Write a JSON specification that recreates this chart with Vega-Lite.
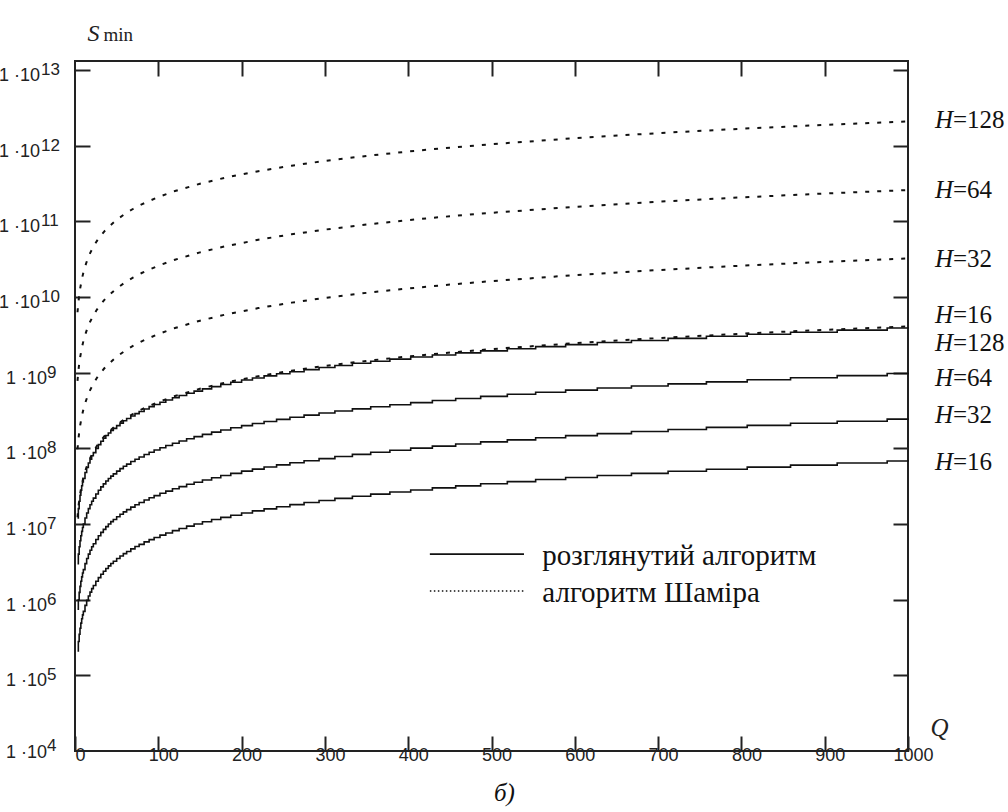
{
"$schema": "https://vega.github.io/schema/vega-lite/v6.json",
"width": 833,
"height": 690,
"autosize": {"type": "none"},
"padding": {"left": 75, "top": 61, "right": 100, "bottom": 61},
"background": "white",
"config": {"view": {"stroke": "#222", "strokeWidth": 2}},
"title": {"text": "б)", "orient": "bottom", "anchor": "middle", "font": "Liberation Serif", "fontStyle": "italic", "fontWeight": "normal", "fontSize": 25, "color": "#111", "offset": 17, "dx": 13},
"datasets": {
"new": [
{"H":16,"Q":3,"S":2.1e5},{"H":16,"Q":4,"S":2.8e5},{"H":16,"Q":5,"S":3.5e5},{"H":16,"Q":6,"S":4.2e5},{"H":16,"Q":7,"S":4.9e5},{"H":16,"Q":8,"S":5.6e5},{"H":16,"Q":9,"S":6.3e5},{"H":16,"Q":10,"S":7.0e5},{"H":16,"Q":12,"S":8.4e5},{"H":16,"Q":14,"S":9.8e5},{"H":16,"Q":16,"S":1.12e6},{"H":16,"Q":18,"S":1.26e6},{"H":16,"Q":20,"S":1.4e6},{"H":16,"Q":22,"S":1.54e6},{"H":16,"Q":25,"S":1.75e6},{"H":16,"Q":28,"S":1.96e6},{"H":16,"Q":31,"S":2.17e6},{"H":16,"Q":34,"S":2.38e6},{"H":16,"Q":37,"S":2.59e6},{"H":16,"Q":40,"S":2.8e6},{"H":16,"Q":43,"S":3.01e6},{"H":16,"Q":46,"S":3.22e6},{"H":16,"Q":50,"S":3.5e6},{"H":16,"Q":54,"S":3.78e6},{"H":16,"Q":58,"S":4.06e6},{"H":16,"Q":62,"S":4.34e6},{"H":16,"Q":67,"S":4.69e6},{"H":16,"Q":72,"S":5.04e6},{"H":16,"Q":77,"S":5.39e6},{"H":16,"Q":83,"S":5.81e6},{"H":16,"Q":89,"S":6.23e6},{"H":16,"Q":95,"S":6.65e6},{"H":16,"Q":102,"S":7.14e6},{"H":16,"Q":109,"S":7.63e6},{"H":16,"Q":117,"S":8.19e6},{"H":16,"Q":125,"S":8.75e6},{"H":16,"Q":134,"S":9.38e6},{"H":16,"Q":143,"S":1.001e7},{"H":16,"Q":153,"S":1.071e7},{"H":16,"Q":164,"S":1.148e7},{"H":16,"Q":175,"S":1.225e7},{"H":16,"Q":187,"S":1.309e7},{"H":16,"Q":200,"S":1.4e7},{"H":16,"Q":213,"S":1.491e7},{"H":16,"Q":227,"S":1.589e7},{"H":16,"Q":242,"S":1.694e7},{"H":16,"Q":258,"S":1.806e7},{"H":16,"Q":275,"S":1.925e7},{"H":16,"Q":293,"S":2.051e7},{"H":16,"Q":312,"S":2.184e7},{"H":16,"Q":333,"S":2.331e7},{"H":16,"Q":355,"S":2.485e7},{"H":16,"Q":378,"S":2.646e7},{"H":16,"Q":403,"S":2.821e7},{"H":16,"Q":429,"S":3.003e7},{"H":16,"Q":457,"S":3.199e7},{"H":16,"Q":487,"S":3.409e7},{"H":16,"Q":519,"S":3.633e7},{"H":16,"Q":553,"S":3.871e7},{"H":16,"Q":589,"S":4.123e7},{"H":16,"Q":627,"S":4.389e7},{"H":16,"Q":668,"S":4.676e7},{"H":16,"Q":712,"S":4.984e7},{"H":16,"Q":758,"S":5.306e7},{"H":16,"Q":807,"S":5.649e7},{"H":16,"Q":859,"S":6.013e7},{"H":16,"Q":915,"S":6.405e7},{"H":16,"Q":975,"S":6.825e7},{"H":16,"Q":1000,"S":7.0e7},
{"H":32,"Q":3,"S":7.5e5},{"H":32,"Q":4,"S":1.0e6},{"H":32,"Q":5,"S":1.25e6},{"H":32,"Q":6,"S":1.5e6},{"H":32,"Q":7,"S":1.75e6},{"H":32,"Q":8,"S":2.0e6},{"H":32,"Q":9,"S":2.25e6},{"H":32,"Q":10,"S":2.5e6},{"H":32,"Q":12,"S":3.0e6},{"H":32,"Q":14,"S":3.5e6},{"H":32,"Q":16,"S":4.0e6},{"H":32,"Q":18,"S":4.5e6},{"H":32,"Q":20,"S":5.0e6},{"H":32,"Q":22,"S":5.5e6},{"H":32,"Q":25,"S":6.25e6},{"H":32,"Q":28,"S":7.0e6},{"H":32,"Q":31,"S":7.75e6},{"H":32,"Q":34,"S":8.5e6},{"H":32,"Q":37,"S":9.25e6},{"H":32,"Q":40,"S":1.0e7},{"H":32,"Q":43,"S":1.075e7},{"H":32,"Q":46,"S":1.15e7},{"H":32,"Q":50,"S":1.25e7},{"H":32,"Q":54,"S":1.35e7},{"H":32,"Q":58,"S":1.45e7},{"H":32,"Q":62,"S":1.55e7},{"H":32,"Q":67,"S":1.675e7},{"H":32,"Q":72,"S":1.8e7},{"H":32,"Q":77,"S":1.925e7},{"H":32,"Q":83,"S":2.075e7},{"H":32,"Q":89,"S":2.225e7},{"H":32,"Q":95,"S":2.375e7},{"H":32,"Q":102,"S":2.55e7},{"H":32,"Q":109,"S":2.725e7},{"H":32,"Q":117,"S":2.925e7},{"H":32,"Q":125,"S":3.125e7},{"H":32,"Q":134,"S":3.35e7},{"H":32,"Q":143,"S":3.575e7},{"H":32,"Q":153,"S":3.825e7},{"H":32,"Q":164,"S":4.1e7},{"H":32,"Q":175,"S":4.375e7},{"H":32,"Q":187,"S":4.675e7},{"H":32,"Q":200,"S":5.0e7},{"H":32,"Q":213,"S":5.325e7},{"H":32,"Q":227,"S":5.675e7},{"H":32,"Q":242,"S":6.05e7},{"H":32,"Q":258,"S":6.45e7},{"H":32,"Q":275,"S":6.875e7},{"H":32,"Q":293,"S":7.325e7},{"H":32,"Q":312,"S":7.8e7},{"H":32,"Q":333,"S":8.325e7},{"H":32,"Q":355,"S":8.875e7},{"H":32,"Q":378,"S":9.45e7},{"H":32,"Q":403,"S":1.0075e8},{"H":32,"Q":429,"S":1.0725e8},{"H":32,"Q":457,"S":1.1425e8},{"H":32,"Q":487,"S":1.2175e8},{"H":32,"Q":519,"S":1.2975e8},{"H":32,"Q":553,"S":1.3825e8},{"H":32,"Q":589,"S":1.4725e8},{"H":32,"Q":627,"S":1.5675e8},{"H":32,"Q":668,"S":1.67e8},{"H":32,"Q":712,"S":1.78e8},{"H":32,"Q":758,"S":1.895e8},{"H":32,"Q":807,"S":2.0175e8},{"H":32,"Q":859,"S":2.1475e8},{"H":32,"Q":915,"S":2.2875e8},{"H":32,"Q":975,"S":2.4375e8},{"H":32,"Q":1000,"S":2.5e8},
{"H":64,"Q":3,"S":3.0e6},{"H":64,"Q":4,"S":4.0e6},{"H":64,"Q":5,"S":5.0e6},{"H":64,"Q":6,"S":6.0e6},{"H":64,"Q":7,"S":7.0e6},{"H":64,"Q":8,"S":8.0e6},{"H":64,"Q":9,"S":9.0e6},{"H":64,"Q":10,"S":1.0e7},{"H":64,"Q":12,"S":1.2e7},{"H":64,"Q":14,"S":1.4e7},{"H":64,"Q":16,"S":1.6e7},{"H":64,"Q":18,"S":1.8e7},{"H":64,"Q":20,"S":2.0e7},{"H":64,"Q":22,"S":2.2e7},{"H":64,"Q":25,"S":2.5e7},{"H":64,"Q":28,"S":2.8e7},{"H":64,"Q":31,"S":3.1e7},{"H":64,"Q":34,"S":3.4e7},{"H":64,"Q":37,"S":3.7e7},{"H":64,"Q":40,"S":4.0e7},{"H":64,"Q":43,"S":4.3e7},{"H":64,"Q":46,"S":4.6e7},{"H":64,"Q":50,"S":5.0e7},{"H":64,"Q":54,"S":5.4e7},{"H":64,"Q":58,"S":5.8e7},{"H":64,"Q":62,"S":6.2e7},{"H":64,"Q":67,"S":6.7e7},{"H":64,"Q":72,"S":7.2e7},{"H":64,"Q":77,"S":7.7e7},{"H":64,"Q":83,"S":8.3e7},{"H":64,"Q":89,"S":8.9e7},{"H":64,"Q":95,"S":9.5e7},{"H":64,"Q":102,"S":1.02e8},{"H":64,"Q":109,"S":1.09e8},{"H":64,"Q":117,"S":1.17e8},{"H":64,"Q":125,"S":1.25e8},{"H":64,"Q":134,"S":1.34e8},{"H":64,"Q":143,"S":1.43e8},{"H":64,"Q":153,"S":1.53e8},{"H":64,"Q":164,"S":1.64e8},{"H":64,"Q":175,"S":1.75e8},{"H":64,"Q":187,"S":1.87e8},{"H":64,"Q":200,"S":2.0e8},{"H":64,"Q":213,"S":2.13e8},{"H":64,"Q":227,"S":2.27e8},{"H":64,"Q":242,"S":2.42e8},{"H":64,"Q":258,"S":2.58e8},{"H":64,"Q":275,"S":2.75e8},{"H":64,"Q":293,"S":2.93e8},{"H":64,"Q":312,"S":3.12e8},{"H":64,"Q":333,"S":3.33e8},{"H":64,"Q":355,"S":3.55e8},{"H":64,"Q":378,"S":3.78e8},{"H":64,"Q":403,"S":4.03e8},{"H":64,"Q":429,"S":4.29e8},{"H":64,"Q":457,"S":4.57e8},{"H":64,"Q":487,"S":4.87e8},{"H":64,"Q":519,"S":5.19e8},{"H":64,"Q":553,"S":5.53e8},{"H":64,"Q":589,"S":5.89e8},{"H":64,"Q":627,"S":6.27e8},{"H":64,"Q":668,"S":6.68e8},{"H":64,"Q":712,"S":7.12e8},{"H":64,"Q":758,"S":7.58e8},{"H":64,"Q":807,"S":8.07e8},{"H":64,"Q":859,"S":8.59e8},{"H":64,"Q":915,"S":9.15e8},{"H":64,"Q":975,"S":9.75e8},{"H":64,"Q":1000,"S":1.0e9},
{"H":128,"Q":3,"S":1.2e7},{"H":128,"Q":4,"S":1.6e7},{"H":128,"Q":5,"S":2.0e7},{"H":128,"Q":6,"S":2.4e7},{"H":128,"Q":7,"S":2.8e7},{"H":128,"Q":8,"S":3.2e7},{"H":128,"Q":9,"S":3.6e7},{"H":128,"Q":10,"S":4.0e7},{"H":128,"Q":12,"S":4.8e7},{"H":128,"Q":14,"S":5.6e7},{"H":128,"Q":16,"S":6.4e7},{"H":128,"Q":18,"S":7.2e7},{"H":128,"Q":20,"S":8.0e7},{"H":128,"Q":22,"S":8.8e7},{"H":128,"Q":25,"S":1.0e8},{"H":128,"Q":28,"S":1.12e8},{"H":128,"Q":31,"S":1.24e8},{"H":128,"Q":34,"S":1.36e8},{"H":128,"Q":37,"S":1.48e8},{"H":128,"Q":40,"S":1.6e8},{"H":128,"Q":43,"S":1.72e8},{"H":128,"Q":46,"S":1.84e8},{"H":128,"Q":50,"S":2.0e8},{"H":128,"Q":54,"S":2.16e8},{"H":128,"Q":58,"S":2.32e8},{"H":128,"Q":62,"S":2.48e8},{"H":128,"Q":67,"S":2.68e8},{"H":128,"Q":72,"S":2.88e8},{"H":128,"Q":77,"S":3.08e8},{"H":128,"Q":83,"S":3.32e8},{"H":128,"Q":89,"S":3.56e8},{"H":128,"Q":95,"S":3.8e8},{"H":128,"Q":102,"S":4.08e8},{"H":128,"Q":109,"S":4.36e8},{"H":128,"Q":117,"S":4.68e8},{"H":128,"Q":125,"S":5.0e8},{"H":128,"Q":134,"S":5.36e8},{"H":128,"Q":143,"S":5.72e8},{"H":128,"Q":153,"S":6.12e8},{"H":128,"Q":164,"S":6.56e8},{"H":128,"Q":175,"S":7.0e8},{"H":128,"Q":187,"S":7.48e8},{"H":128,"Q":200,"S":8.0e8},{"H":128,"Q":213,"S":8.52e8},{"H":128,"Q":227,"S":9.08e8},{"H":128,"Q":242,"S":9.68e8},{"H":128,"Q":258,"S":1.032e9},{"H":128,"Q":275,"S":1.1e9},{"H":128,"Q":293,"S":1.172e9},{"H":128,"Q":312,"S":1.248e9},{"H":128,"Q":333,"S":1.332e9},{"H":128,"Q":355,"S":1.42e9},{"H":128,"Q":378,"S":1.512e9},{"H":128,"Q":403,"S":1.612e9},{"H":128,"Q":429,"S":1.716e9},{"H":128,"Q":457,"S":1.828e9},{"H":128,"Q":487,"S":1.948e9},{"H":128,"Q":519,"S":2.076e9},{"H":128,"Q":553,"S":2.212e9},{"H":128,"Q":589,"S":2.356e9},{"H":128,"Q":627,"S":2.508e9},{"H":128,"Q":668,"S":2.672e9},{"H":128,"Q":712,"S":2.848e9},{"H":128,"Q":758,"S":3.032e9},{"H":128,"Q":807,"S":3.228e9},{"H":128,"Q":859,"S":3.436e9},{"H":128,"Q":915,"S":3.66e9},{"H":128,"Q":975,"S":3.9e9},{"H":128,"Q":1000,"S":4.0e9}
],
"shamir": [
{"H":16,"Q":3,"S":1.23e7},{"H":16,"Q":4,"S":1.64e7},{"H":16,"Q":5,"S":2.05e7},{"H":16,"Q":6,"S":2.46e7},{"H":16,"Q":8,"S":3.28e7},{"H":16,"Q":10,"S":4.1e7},{"H":16,"Q":12,"S":4.92e7},{"H":16,"Q":15,"S":6.15e7},{"H":16,"Q":18,"S":7.38e7},{"H":16,"Q":22,"S":9.02e7},{"H":16,"Q":26,"S":1.066e8},{"H":16,"Q":30,"S":1.23e8},{"H":16,"Q":35,"S":1.435e8},{"H":16,"Q":40,"S":1.64e8},{"H":16,"Q":50,"S":2.05e8},{"H":16,"Q":60,"S":2.46e8},{"H":16,"Q":70,"S":2.87e8},{"H":16,"Q":80,"S":3.28e8},{"H":16,"Q":100,"S":4.1e8},{"H":16,"Q":120,"S":4.92e8},{"H":16,"Q":150,"S":6.15e8},{"H":16,"Q":180,"S":7.38e8},{"H":16,"Q":220,"S":9.02e8},{"H":16,"Q":260,"S":1.066e9},{"H":16,"Q":300,"S":1.23e9},{"H":16,"Q":350,"S":1.435e9},{"H":16,"Q":400,"S":1.64e9},{"H":16,"Q":450,"S":1.845e9},{"H":16,"Q":500,"S":2.05e9},{"H":16,"Q":600,"S":2.46e9},{"H":16,"Q":700,"S":2.87e9},{"H":16,"Q":800,"S":3.28e9},{"H":16,"Q":900,"S":3.69e9},{"H":16,"Q":1000,"S":4.1e9},
{"H":32,"Q":3,"S":9.75e7},{"H":32,"Q":4,"S":1.3e8},{"H":32,"Q":5,"S":1.625e8},{"H":32,"Q":6,"S":1.95e8},{"H":32,"Q":8,"S":2.6e8},{"H":32,"Q":10,"S":3.25e8},{"H":32,"Q":12,"S":3.9e8},{"H":32,"Q":15,"S":4.875e8},{"H":32,"Q":18,"S":5.85e8},{"H":32,"Q":22,"S":7.15e8},{"H":32,"Q":26,"S":8.45e8},{"H":32,"Q":30,"S":9.75e8},{"H":32,"Q":35,"S":1.1375e9},{"H":32,"Q":40,"S":1.3e9},{"H":32,"Q":50,"S":1.625e9},{"H":32,"Q":60,"S":1.95e9},{"H":32,"Q":70,"S":2.275e9},{"H":32,"Q":80,"S":2.6e9},{"H":32,"Q":100,"S":3.25e9},{"H":32,"Q":120,"S":3.9e9},{"H":32,"Q":150,"S":4.875e9},{"H":32,"Q":180,"S":5.85e9},{"H":32,"Q":220,"S":7.15e9},{"H":32,"Q":260,"S":8.45e9},{"H":32,"Q":300,"S":9.75e9},{"H":32,"Q":350,"S":1.1375e10},{"H":32,"Q":400,"S":1.3e10},{"H":32,"Q":450,"S":1.4625e10},{"H":32,"Q":500,"S":1.625e10},{"H":32,"Q":600,"S":1.95e10},{"H":32,"Q":700,"S":2.275e10},{"H":32,"Q":800,"S":2.6e10},{"H":32,"Q":900,"S":2.925e10},{"H":32,"Q":1000,"S":3.25e10},
{"H":64,"Q":3,"S":7.8e8},{"H":64,"Q":4,"S":1.04e9},{"H":64,"Q":5,"S":1.3e9},{"H":64,"Q":6,"S":1.56e9},{"H":64,"Q":8,"S":2.08e9},{"H":64,"Q":10,"S":2.6e9},{"H":64,"Q":12,"S":3.12e9},{"H":64,"Q":15,"S":3.9e9},{"H":64,"Q":18,"S":4.68e9},{"H":64,"Q":22,"S":5.72e9},{"H":64,"Q":26,"S":6.76e9},{"H":64,"Q":30,"S":7.8e9},{"H":64,"Q":35,"S":9.1e9},{"H":64,"Q":40,"S":1.04e10},{"H":64,"Q":50,"S":1.3e10},{"H":64,"Q":60,"S":1.56e10},{"H":64,"Q":70,"S":1.82e10},{"H":64,"Q":80,"S":2.08e10},{"H":64,"Q":100,"S":2.6e10},{"H":64,"Q":120,"S":3.12e10},{"H":64,"Q":150,"S":3.9e10},{"H":64,"Q":180,"S":4.68e10},{"H":64,"Q":220,"S":5.72e10},{"H":64,"Q":260,"S":6.76e10},{"H":64,"Q":300,"S":7.8e10},{"H":64,"Q":350,"S":9.1e10},{"H":64,"Q":400,"S":1.04e11},{"H":64,"Q":450,"S":1.17e11},{"H":64,"Q":500,"S":1.3e11},{"H":64,"Q":600,"S":1.56e11},{"H":64,"Q":700,"S":1.82e11},{"H":64,"Q":800,"S":2.08e11},{"H":64,"Q":900,"S":2.34e11},{"H":64,"Q":1000,"S":2.6e11},
{"H":128,"Q":3,"S":6.3e9},{"H":128,"Q":4,"S":8.4e9},{"H":128,"Q":5,"S":1.05e10},{"H":128,"Q":6,"S":1.26e10},{"H":128,"Q":8,"S":1.68e10},{"H":128,"Q":10,"S":2.1e10},{"H":128,"Q":12,"S":2.52e10},{"H":128,"Q":15,"S":3.15e10},{"H":128,"Q":18,"S":3.78e10},{"H":128,"Q":22,"S":4.62e10},{"H":128,"Q":26,"S":5.46e10},{"H":128,"Q":30,"S":6.3e10},{"H":128,"Q":35,"S":7.35e10},{"H":128,"Q":40,"S":8.4e10},{"H":128,"Q":50,"S":1.05e11},{"H":128,"Q":60,"S":1.26e11},{"H":128,"Q":70,"S":1.47e11},{"H":128,"Q":80,"S":1.68e11},{"H":128,"Q":100,"S":2.1e11},{"H":128,"Q":120,"S":2.52e11},{"H":128,"Q":150,"S":3.15e11},{"H":128,"Q":180,"S":3.78e11},{"H":128,"Q":220,"S":4.62e11},{"H":128,"Q":260,"S":5.46e11},{"H":128,"Q":300,"S":6.3e11},{"H":128,"Q":350,"S":7.35e11},{"H":128,"Q":400,"S":8.4e11},{"H":128,"Q":450,"S":9.45e11},{"H":128,"Q":500,"S":1.05e12},{"H":128,"Q":600,"S":1.26e12},{"H":128,"Q":700,"S":1.47e12},{"H":128,"Q":800,"S":1.68e12},{"H":128,"Q":900,"S":1.89e12},{"H":128,"Q":1000,"S":2.1e12}
],
"decades": [
{"Q":0,"S":1e4,"ex":"4"},{"Q":0,"S":1e5,"ex":"5"},{"Q":0,"S":1e6,"ex":"6"},{"Q":0,"S":1e7,"ex":"7"},{"Q":0,"S":1e8,"ex":"8"},{"Q":0,"S":1e9,"ex":"9"},{"Q":0,"S":1e10,"ex":"10"},{"Q":0,"S":1e11,"ex":"11"},{"Q":0,"S":1e12,"ex":"12"},{"Q":0,"S":1e13,"ex":"13"}
],
"labels": [
{"Q":1000,"S":2.18e12,"txt":"=128"},{"Q":1000,"S":2.6e11,"txt":"=64"},{"Q":1000,"S":3.18e10,"txt":"=32"},{"Q":1000,"S":5.78e9,"txt":"=16"},{"Q":1000,"S":2.47e9,"txt":"=128"},{"Q":1000,"S":8.5e8,"txt":"=64"},{"Q":1000,"S":2.75e8,"txt":"=32"},{"Q":1000,"S":6.6e7,"txt":"=16"}
],
"legend": [
{"alg":"new","name":"розглянутий алгоритм","Q1":426,"Q2":539,"Qt":561,"S":4.0e6},
{"alg":"shamir","name":"алгоритм Шаміра","Q1":426,"Q2":539,"Qt":561,"S":1.3e6}
]
},
"resolve": {"axis": {"x": "independent", "y": "independent"}},
"layer": [
{
"data": {"name": "new"},
"mark": {"type": "line", "interpolate": "step-after", "color": "#111", "strokeWidth": 1.6},
"encoding": {
"x": {"field": "Q", "type": "quantitative", "scale": {"domain": [0, 1000], "nice": false, "zero": false},
"axis": {"orient": "bottom", "values": [0,100,200,300,400,500,600,700,800,900,1000], "format": "d", "domain": false, "grid": false, "tickSize": -15, "tickWidth": 2, "tickColor": "#222", "labelFont": "Liberation Sans", "labelFontSize": 18, "labelColor": "#222", "labelPadding": 10, "labelOffset": 5, "labelFlush": false, "labelOverlap": false,
"title": "Q", "titleFont": "Liberation Serif", "titleFontStyle": "italic", "titleFontWeight": "normal", "titleFontSize": 25, "titleColor": "#222", "titleX": 855, "titleY": -16, "titleAlign": "left", "titleBaseline": "alphabetic", "titleAnchor": "start"}},
"y": {"field": "S", "type": "quantitative", "scale": {"type": "log", "domain": [1e4, 1.32e13], "nice": false},
"axis": {"orient": "left", "values": [1e5,1e6,1e7,1e8,1e9,1e10,1e11,1e12,1e13], "domain": false, "grid": false, "labels": false, "tickSize": -15, "tickWidth": 2, "tickColor": "#222",
"title": "S", "titleFont": "Liberation Serif", "titleFontStyle": "italic", "titleFontWeight": "normal", "titleFontSize": 24, "titleColor": "#222", "titleAngle": 0, "titleX": 12, "titleY": -21, "titleAlign": "left", "titleBaseline": "alphabetic"}},
"detail": {"field": "H", "type": "nominal"}
}
},
{
"data": {"name": "shamir"},
"mark": {"type": "line", "color": "#111", "strokeWidth": 2, "strokeDash": [4, 8]},
"encoding": {
"x": {"field": "Q", "type": "quantitative",
"axis": {"orient": "top", "values": [100,200,300,400,500,600,700,800,900], "domain": false, "grid": false, "labels": false, "tickSize": -15, "tickWidth": 2, "tickColor": "#222",
"title": "min", "titleFont": "Liberation Serif", "titleFontStyle": "normal", "titleFontWeight": "normal", "titleFontSize": 19, "titleColor": "#222", "titleX": 28, "titleY": -21, "titleAlign": "left", "titleBaseline": "alphabetic"}},
"y": {"field": "S", "type": "quantitative",
"axis": {"orient": "right", "values": [1e5,1e6,1e7,1e8,1e9,1e10,1e11,1e12,1e13], "domain": false, "grid": false, "labels": false, "tickSize": -15, "tickWidth": 2, "tickColor": "#222", "title": null}},
"detail": {"field": "H", "type": "nominal"}
}
},
{
"data": {"name": "decades"},
"transform": [{"filter": "datum.S > 1e4 && datum.S < 1e10"}],
"mark": {"type": "text", "text": "1 ·10", "align": "right", "baseline": "alphabetic", "dx": -28, "dy": 11, "font": "Liberation Sans", "fontSize": 18, "color": "#222"},
"encoding": {
"x": {"field": "Q", "type": "quantitative", "axis": null},
"y": {"field": "S", "type": "quantitative", "axis": null}
}
},
{
"data": {"name": "decades"},
"transform": [{"filter": "datum.S > 1e4 && datum.S < 1e10"}],
"mark": {"type": "text", "align": "left", "baseline": "alphabetic", "dx": -28, "dy": 5, "font": "Liberation Sans", "fontSize": 17, "color": "#222"},
"encoding": {
"x": {"field": "Q", "type": "quantitative", "axis": null},
"y": {"field": "S", "type": "quantitative", "axis": null},
"text": {"field": "ex"}
}
},
{
"data": {"name": "decades"},
"transform": [{"filter": "datum.S <= 1e4"}],
"mark": {"type": "text", "text": "1 ·10", "align": "right", "baseline": "alphabetic", "dx": -28, "dy": 7, "font": "Liberation Sans", "fontSize": 18, "color": "#222"},
"encoding": {
"x": {"field": "Q", "type": "quantitative", "axis": null},
"y": {"field": "S", "type": "quantitative", "axis": null}
}
},
{
"data": {"name": "decades"},
"transform": [{"filter": "datum.S <= 1e4"}],
"mark": {"type": "text", "align": "left", "baseline": "alphabetic", "dx": -28, "dy": 0, "font": "Liberation Sans", "fontSize": 17, "color": "#222"},
"encoding": {
"x": {"field": "Q", "type": "quantitative", "axis": null},
"y": {"field": "S", "type": "quantitative", "axis": null},
"text": {"field": "ex"}
}
},
{
"data": {"name": "decades"},
"transform": [{"filter": "datum.S >= 1e10"}],
"mark": {"type": "text", "text": "1 ·10", "align": "right", "baseline": "alphabetic", "dx": -35, "dy": 11, "font": "Liberation Sans", "fontSize": 18, "color": "#222"},
"encoding": {
"x": {"field": "Q", "type": "quantitative", "axis": null},
"y": {"field": "S", "type": "quantitative", "axis": null}
}
},
{
"data": {"name": "decades"},
"transform": [{"filter": "datum.S >= 1e10"}],
"mark": {"type": "text", "align": "left", "baseline": "alphabetic", "dx": -34, "dy": 5, "font": "Liberation Sans", "fontSize": 17, "color": "#222"},
"encoding": {
"x": {"field": "Q", "type": "quantitative", "axis": null},
"y": {"field": "S", "type": "quantitative", "axis": null},
"text": {"field": "ex"}
}
},
{
"data": {"name": "labels"},
"mark": {"type": "text", "text": "H", "align": "left", "baseline": "middle", "dx": 27, "font": "Liberation Serif", "fontStyle": "italic", "fontSize": 25, "color": "#111"},
"encoding": {
"x": {"field": "Q", "type": "quantitative", "axis": null},
"y": {"field": "S", "type": "quantitative", "axis": null}
}
},
{
"data": {"name": "labels"},
"mark": {"type": "text", "align": "left", "baseline": "middle", "dx": 45, "font": "Liberation Serif", "fontSize": 25, "color": "#111"},
"encoding": {
"x": {"field": "Q", "type": "quantitative", "axis": null},
"y": {"field": "S", "type": "quantitative", "axis": null},
"text": {"field": "txt"}
}
},
{
"data": {"name": "legend"},
"transform": [{"filter": "datum.alg == 'new'"}],
"mark": {"type": "rule", "color": "#111", "strokeWidth": 1.8},
"encoding": {
"x": {"field": "Q1", "type": "quantitative", "axis": null},
"x2": {"field": "Q2"},
"y": {"field": "S", "type": "quantitative", "axis": null}
}
},
{
"data": {"name": "legend"},
"transform": [{"filter": "datum.alg == 'shamir'"}],
"mark": {"type": "rule", "color": "#111", "strokeWidth": 1.5, "strokeDash": [1.5, 2.5]},
"encoding": {
"x": {"field": "Q1", "type": "quantitative", "axis": null},
"x2": {"field": "Q2"},
"y": {"field": "S", "type": "quantitative", "axis": null}
}
},
{
"data": {"name": "legend"},
"mark": {"type": "text", "align": "left", "baseline": "middle", "dy": 2, "font": "Liberation Serif, serif", "fontSize": 29, "color": "#111"},
"encoding": {
"x": {"field": "Qt", "type": "quantitative", "axis": null},
"y": {"field": "S", "type": "quantitative", "axis": null},
"text": {"field": "name"}
}
}
]
}
